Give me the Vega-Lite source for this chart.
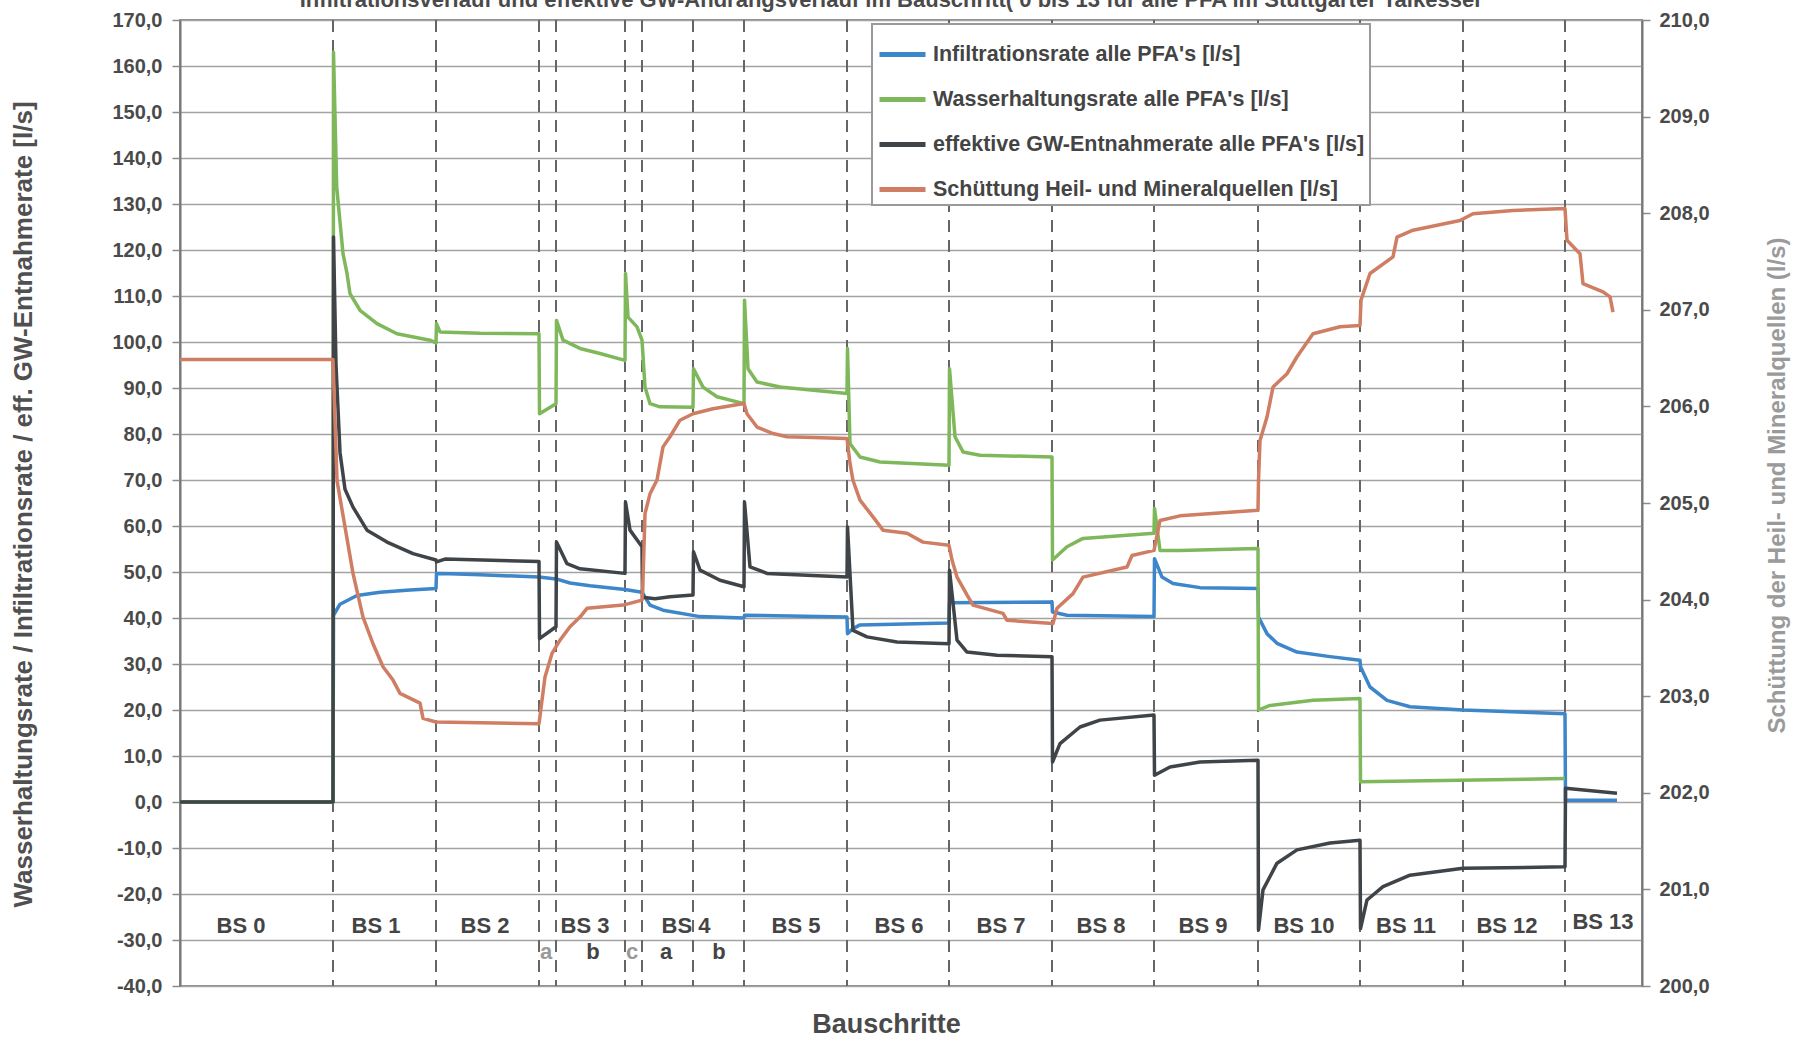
{
  "$schema": "https://vega.github.io/schema/vega-lite/v6.json",
  "width": 1462,
  "height": 966,
  "autosize": {"type": "none"},
  "padding": {"left": 180, "top": 20, "right": 156, "bottom": 56},
  "background": "white",
  "title": {
    "text": "Infiltrationsverlauf und effektive GW-Andrangsverlauf im Bauschritt( 0 bis 13 für alle PFA im Stuttgarter Talkessel",
    "font": "Liberation Sans",
    "fontSize": 22,
    "fontWeight": "bold",
    "color": "#4a4a4a",
    "anchor": "middle",
    "frame": "group",
    "dx": -21,
    "dy": 4,
    "offset": 2
  },
  "config": {
    "view": {"stroke": "#8c8c8c", "strokeWidth": 2},
    "font": "Liberation Sans",
    "axis": {
      "labelFont": "Liberation Sans",
      "labelFontWeight": "bold",
      "labelFontSize": 20,
      "labelColor": "#4a4a4a",
      "tickColor": "#8c8c8c",
      "tickSize": 8,
      "tickWidth": 1.5,
      "labelPadding": 10,
      "gridColor": "#a3a3a3",
      "gridWidth": 1.5,
      "domainColor": "#777777",
      "domainWidth": 2,
      "titleFont": "Liberation Sans",
      "titleFontWeight": "bold",
      "titleColor": "#505050"
    },
    "legend": {
      "orient": "none",
      "legendX": 692,
      "legendY": 4,
      "direction": "vertical",
      "fillColor": "white",
      "strokeColor": "#9a9a9a",
      "strokeWidth": 2,
      "padding": 5,
      "symbolType": "stroke",
      "symbolSize": 2116,
      "symbolStrokeWidth": 5,
      "labelFont": "Liberation Sans",
      "labelFontSize": 21.5,
      "labelFontWeight": "bold",
      "labelColor": "#444444",
      "labelLimit": 700,
      "labelOffset": 5,
      "rowPadding": 9
    }
  },
  "datasets": {
    "grenzen": [{"t":15.3},{"t":25.6},{"t":35.9},{"t":37.6},{"t":44.5},{"t":46.2},{"t":51.3},{"t":56.4},{"t":66.7},{"t":76.9},{"t":87.2},{"t":97.4},{"t":107.8},{"t":118.0},{"t":128.3},{"t":138.5}],
    "infiltration": [
      {"t":0,"v":0},{"t":15.3,"v":0},{"t":15.35,"v":40.6},{"t":16.0,"v":43.0},{"t":17.7,"v":44.9},{"t":20.0,"v":45.6},{"t":23.0,"v":46.1},{"t":25.6,"v":46.4},{"t":25.65,"v":49.7},{"t":27.0,"v":49.6},{"t":30.0,"v":49.4},{"t":35.9,"v":48.9},{"t":37.6,"v":48.5},{"t":39.0,"v":47.6},{"t":41.0,"v":47.0},{"t":44.5,"v":46.2},{"t":46.2,"v":45.6},{"t":47.0,"v":42.8},{"t":48.3,"v":41.7},{"t":52.0,"v":40.3},{"t":56.4,"v":40.0},{"t":56.45,"v":40.6},{"t":66.7,"v":40.2},{"t":66.75,"v":36.6},{"t":67.3,"v":37.7},{"t":68.0,"v":38.5},{"t":76.9,"v":38.9},{"t":76.95,"v":43.3},{"t":87.2,"v":43.5},{"t":87.25,"v":41.3},{"t":88.7,"v":40.6},{"t":97.4,"v":40.3},{"t":97.45,"v":52.9},{"t":98.2,"v":48.9},{"t":99.3,"v":47.5},{"t":102.0,"v":46.6},{"t":107.8,"v":46.4},{"t":107.85,"v":40.2},{"t":108.7,"v":36.6},{"t":109.7,"v":34.5},{"t":111.7,"v":32.6},{"t":115.0,"v":31.6},{"t":118.0,"v":30.8},{"t":118.05,"v":29.4},{"t":119.0,"v":25.0},{"t":120.7,"v":22.1},{"t":123.0,"v":20.7},{"t":128.3,"v":20.0},{"t":138.5,"v":19.2},{"t":138.55,"v":0.4},{"t":143.7,"v":0.4}
    ],
    "wasserhaltung": [
      {"t":0,"v":0},{"t":15.3,"v":0},{"t":15.35,"v":163.0},{"t":15.67,"v":133.7},{"t":16.3,"v":119.2},{"t":16.7,"v":114.9},{"t":17.0,"v":110.5},{"t":18.0,"v":106.9},{"t":19.7,"v":104.0},{"t":21.7,"v":101.8},{"t":25.0,"v":100.4},{"t":25.6,"v":99.8},{"t":25.65,"v":104.0},{"t":26.0,"v":102.2},{"t":30.0,"v":101.9},{"t":35.9,"v":101.8},{"t":35.95,"v":84.4},{"t":37.6,"v":86.6},{"t":37.65,"v":104.7},{"t":38.3,"v":100.4},{"t":40.0,"v":98.6},{"t":42.0,"v":97.5},{"t":44.5,"v":96.0},{"t":44.55,"v":114.9},{"t":44.8,"v":105.4},{"t":45.7,"v":103.3},{"t":46.2,"v":100.4},{"t":46.5,"v":90.2},{"t":47.0,"v":86.6},{"t":48.0,"v":85.9},{"t":51.3,"v":85.8},{"t":51.35,"v":94.2},{"t":52.3,"v":90.2},{"t":53.7,"v":88.1},{"t":56.4,"v":86.6},{"t":56.45,"v":109.1},{"t":56.8,"v":94.2},{"t":57.7,"v":91.3},{"t":60.0,"v":90.2},{"t":66.7,"v":88.8},{"t":66.75,"v":98.6},{"t":67.0,"v":77.9},{"t":68.0,"v":75.0},{"t":70.0,"v":73.9},{"t":76.9,"v":73.2},{"t":76.95,"v":94.2},{"t":77.5,"v":79.4},{"t":78.3,"v":76.1},{"t":80.0,"v":75.4},{"t":87.2,"v":75.0},{"t":87.25,"v":52.6},{"t":88.7,"v":55.5},{"t":90.3,"v":57.3},{"t":97.4,"v":58.4},{"t":97.45,"v":63.8},{"t":98.0,"v":54.7},{"t":100.0,"v":54.7},{"t":107.8,"v":55.1},{"t":107.85,"v":20.0},{"t":109.0,"v":21.0},{"t":113.3,"v":22.1},{"t":118.0,"v":22.5},{"t":118.05,"v":4.4},{"t":138.5,"v":5.1}
    ],
    "entnahme": [
      {"t":0,"v":0},{"t":15.3,"v":0},{"t":15.35,"v":122.8},{"t":15.6,"v":95},{"t":16.0,"v":76},{"t":16.5,"v":68},{"t":17.3,"v":64.1},{"t":18.7,"v":59.1},{"t":20.7,"v":56.5},{"t":23.3,"v":54.0},{"t":25.6,"v":52.6},{"t":25.65,"v":52.2},{"t":26.5,"v":52.8},{"t":35.9,"v":52.3},{"t":35.95,"v":35.5},{"t":37.6,"v":38.1},{"t":37.65,"v":56.5},{"t":38.7,"v":51.8},{"t":40.0,"v":50.7},{"t":44.5,"v":49.7},{"t":44.55,"v":65.2},{"t":45.0,"v":59.1},{"t":46.2,"v":55.5},{"t":46.25,"v":44.5},{"t":47.5,"v":44.2},{"t":49.0,"v":44.6},{"t":51.3,"v":45.0},{"t":51.35,"v":54.4},{"t":52.0,"v":50.4},{"t":54.0,"v":48.2},{"t":56.4,"v":46.8},{"t":56.45,"v":65.2},{"t":57.0,"v":51.1},{"t":58.7,"v":49.7},{"t":66.7,"v":48.9},{"t":66.75,"v":59.8},{"t":67.3,"v":37.3},{"t":68.7,"v":35.9},{"t":71.7,"v":34.8},{"t":76.9,"v":34.4},{"t":76.95,"v":50.4},{"t":77.7,"v":35.2},{"t":78.7,"v":32.6},{"t":81.7,"v":31.9},{"t":87.2,"v":31.6},{"t":87.25,"v":8.7},{"t":88.0,"v":12.7},{"t":90.0,"v":16.3},{"t":92.0,"v":17.8},{"t":97.4,"v":18.9},{"t":97.45,"v":5.8},{"t":99.0,"v":7.6},{"t":102.0,"v":8.7},{"t":107.8,"v":9.1},{"t":107.85,"v":-27.8},{"t":108.3,"v":-19.1},{"t":109.7,"v":-13.3},{"t":111.7,"v":-10.4},{"t":115.0,"v":-8.9},{"t":118.0,"v":-8.3},{"t":118.05,"v":-27.5},{"t":118.7,"v":-21.3},{"t":120.3,"v":-18.4},{"t":123.0,"v":-15.9},{"t":128.3,"v":-14.4},{"t":138.5,"v":-14.1},{"t":138.55,"v":3.0},{"t":143.7,"v":1.9}
    ],
    "schuettung": [
      {"t":0,"r":206.486},{"t":15.3,"r":206.486},{"t":15.7,"r":205.233},{"t":17.3,"r":204.271},{"t":18.3,"r":203.819},{"t":19.3,"r":203.543},{"t":20.3,"r":203.305},{"t":21.3,"r":203.167},{"t":22.0,"r":203.029},{"t":24.0,"r":202.929},{"t":24.3,"r":202.771},{"t":25.6,"r":202.733},{"t":35.9,"r":202.714},{"t":36.5,"r":203.2},{"t":37.2,"r":203.443},{"t":38.0,"r":203.581},{"t":39.0,"r":203.719},{"t":40.0,"r":203.819},{"t":40.7,"r":203.91},{"t":44.3,"r":203.943},{"t":46.2,"r":203.995},{"t":46.3,"r":204.2},{"t":46.5,"r":204.89},{"t":47.0,"r":205.095},{"t":47.7,"r":205.238},{"t":48.3,"r":205.581},{"t":49.0,"r":205.686},{"t":50.0,"r":205.857},{"t":51.3,"r":205.924},{"t":53.3,"r":205.976},{"t":56.4,"r":206.029},{"t":56.7,"r":205.924},{"t":57.7,"r":205.786},{"t":59.3,"r":205.719},{"t":60.7,"r":205.686},{"t":66.7,"r":205.667},{"t":67.0,"r":205.41},{"t":67.3,"r":205.233},{"t":68.0,"r":205.029},{"t":69.3,"r":204.857},{"t":70.3,"r":204.719},{"t":72.7,"r":204.686},{"t":74.3,"r":204.595},{"t":76.9,"r":204.562},{"t":77.2,"r":204.41},{"t":77.7,"r":204.233},{"t":78.7,"r":204.048},{"t":79.3,"r":203.943},{"t":82.3,"r":203.857},{"t":82.7,"r":203.786},{"t":87.3,"r":203.752},{"t":87.7,"r":203.91},{"t":89.3,"r":204.062},{"t":90.3,"r":204.233},{"t":94.7,"r":204.338},{"t":95.2,"r":204.457},{"t":97.4,"r":204.51},{"t":98.0,"r":204.819},{"t":100.0,"r":204.867},{"t":107.8,"r":204.924},{"t":107.85,"r":205.233},{"t":108.0,"r":205.648},{"t":108.7,"r":205.89},{"t":109.3,"r":206.2},{"t":110.7,"r":206.338},{"t":111.7,"r":206.514},{"t":113.3,"r":206.752},{"t":116.0,"r":206.824},{"t":118.0,"r":206.838},{"t":118.1,"r":207.1},{"t":119.0,"r":207.376},{"t":121.3,"r":207.548},{"t":121.7,"r":207.752},{"t":123.3,"r":207.824},{"t":128.0,"r":207.924},{"t":129.3,"r":207.995},{"t":133.3,"r":208.029},{"t":138.5,"r":208.048},{"t":138.7,"r":207.719},{"t":140.0,"r":207.581},{"t":140.3,"r":207.271},{"t":142.3,"r":207.186},{"t":143.0,"r":207.133},{"t":143.3,"r":206.976}
    ],
    "bs": [
      {"t":6.1,"v":-27,"label":"BS 0"},{"t":19.6,"v":-27,"label":"BS 1"},{"t":30.5,"v":-27,"label":"BS 2"},{"t":40.5,"v":-27,"label":"BS 3"},{"t":50.6,"v":-27,"label":"BS 4"},{"t":61.6,"v":-27,"label":"BS 5"},{"t":71.9,"v":-27,"label":"BS 6"},{"t":82.1,"v":-27,"label":"BS 7"},{"t":92.1,"v":-27,"label":"BS 8"},{"t":102.3,"v":-27,"label":"BS 9"},{"t":112.4,"v":-27,"label":"BS 10"},{"t":122.6,"v":-27,"label":"BS 11"},{"t":132.7,"v":-27,"label":"BS 12"},{"t":142.3,"v":-26,"label":"BS 13"}
    ],
    "sub": [
      {"t":41.3,"v":-32.6,"label":"b"},{"t":48.6,"v":-32.6,"label":"a"},{"t":53.9,"v":-32.6,"label":"b"}
    ],
    "sub_hell": [
      {"t":36.6,"v":-32.6,"label":"a"},{"t":45.2,"v":-32.6,"label":"c"}
    ]
  },
  "encoding": {
    "x": {"field": "t", "type": "quantitative", "scale": {"domain": [0, 146.2], "nice": false, "zero": false},
      "axis": {"title": "Bauschritte", "labels": false, "ticks": false, "domain": false, "grid": false, "titleFontSize": 27, "titleColor": "#4a4a4a", "titleX": 706, "titleY": 38, "titleBaseline": "middle"}}
  },
  "layer": [
    {
      "data": {"name": "grenzen"},
      "mark": {"type": "rule", "color": "#666666", "strokeWidth": 2, "strokeDash": [12, 8]}
    },
    {
      "encoding": {
        "y": {"field": "v", "type": "quantitative", "scale": {"domain": [-40, 170], "nice": false, "zero": false},
          "axis": {"values": [-40,-30,-20,-10,0,10,20,30,40,50,60,70,80,90,100,110,120,130,140,150,160,170], "grid": true,
            "labelExpr": "replace(replace(format(datum.value, '.1f'), '.', ','), '−', '-')",
            "title": "Wasserhaltungsrate / Infiltrationsrate / eff. GW-Entnahmerate [l/s]", "titleFontSize": 26, "titleAngle": -90, "titleBaseline": "middle", "titleAlign": "center", "titleX": -157, "titleY": 484}}
      },
      "layer": [
        {
          "data": {"name": "infiltration"},
          "mark": {"type": "line", "strokeWidth": 3.5, "strokeJoin": "round"},
          "encoding": {
            "color": {"datum": "Infiltrationsrate alle PFA's [l/s]", "type": "nominal",
              "scale": {"domain": ["Infiltrationsrate alle PFA's [l/s]", "Wasserhaltungsrate alle PFA's [l/s]", "effektive GW-Entnahmerate alle PFA's [l/s]", "Schüttung Heil- und Mineralquellen [l/s]"], "range": ["#3d86c9", "#7fb85a", "#3f4448", "#cf7d63"]},
              "legend": {"title": null}}
          }
        },
        {
          "data": {"name": "wasserhaltung"},
          "mark": {"type": "line", "strokeWidth": 3.5, "strokeJoin": "round"},
          "encoding": {
            "color": {"datum": "Wasserhaltungsrate alle PFA's [l/s]", "type": "nominal"}
          }
        },
        {
          "data": {"name": "entnahme"},
          "mark": {"type": "line", "strokeWidth": 3.5, "strokeJoin": "round"},
          "encoding": {
            "color": {"datum": "effektive GW-Entnahmerate alle PFA's [l/s]", "type": "nominal"}
          }
        },
        {
          "data": {"name": "bs"},
          "mark": {"type": "text", "font": "Liberation Sans", "fontSize": 22, "fontWeight": "bold", "color": "#444444", "align": "center", "baseline": "middle"},
          "encoding": {"text": {"field": "label"}}
        },
        {
          "data": {"name": "sub"},
          "mark": {"type": "text", "font": "Liberation Sans", "fontSize": 22, "fontWeight": "bold", "color": "#444444", "align": "center", "baseline": "middle"},
          "encoding": {"text": {"field": "label"}}
        },
        {
          "data": {"name": "sub_hell"},
          "mark": {"type": "text", "font": "Liberation Sans", "fontSize": 22, "fontWeight": "bold", "color": "#9a9a9a", "align": "center", "baseline": "middle"},
          "encoding": {"text": {"field": "label"}}
        }
      ]
    },
    {
      "data": {"name": "schuettung"},
      "mark": {"type": "line", "strokeWidth": 3.5, "strokeJoin": "round"},
      "encoding": {
        "y": {"field": "r", "type": "quantitative", "scale": {"domain": [200, 210], "nice": false, "zero": false},
          "axis": {"orient": "right", "values": [200,201,202,203,204,205,206,207,208,209,210], "grid": false, "labelPadding": 9,
            "labelExpr": "replace(format(datum.value, '.1f'), '.', ',')",
            "title": "Schüttung der Heil- und Mineralquellen (l/s)", "titleFontSize": 24, "titleColor": "#9a9a9a", "titleAngle": -90, "titleBaseline": "middle", "titleAlign": "center", "titleX": 135, "titleY": 465}},
        "color": {"datum": "Schüttung Heil- und Mineralquellen [l/s]", "type": "nominal"}
      }
    }
  ],
  "resolve": {"scale": {"y": "independent"}}
}
